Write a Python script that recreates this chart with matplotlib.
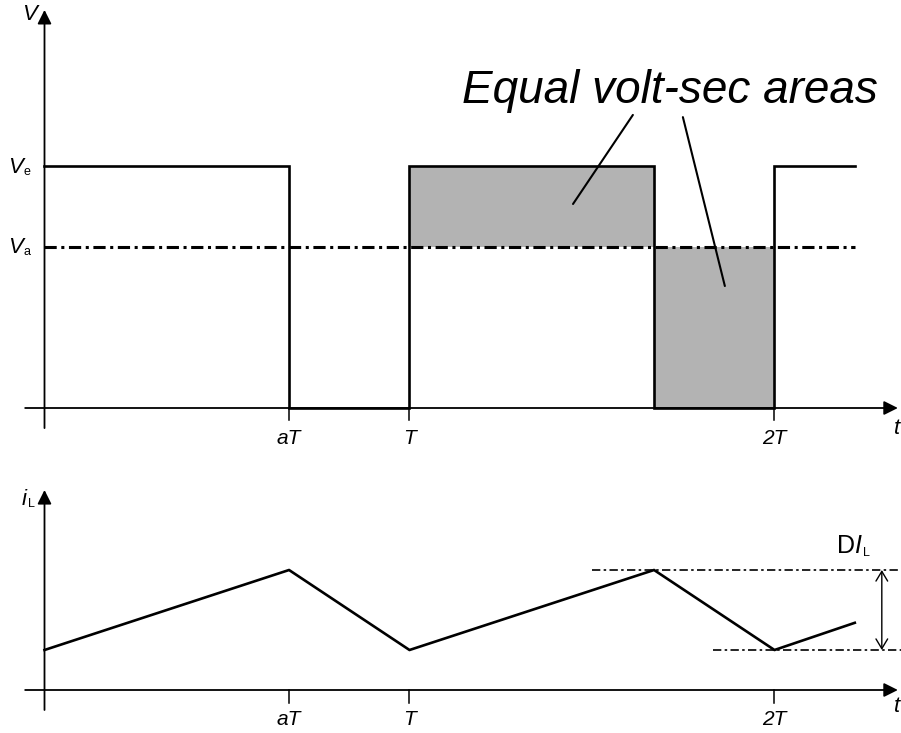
import numpy as np
import matplotlib
matplotlib.use('Agg')
import matplotlib.pyplot as plt

plt.rcParams['font.family'] = ['Liberation Sans', 'DejaVu Sans']
plt.rcParams['mathtext.fontset'] = 'custom'
plt.rcParams['mathtext.rm'] = 'Liberation Sans'
plt.rcParams['mathtext.it'] = 'Liberation Sans:italic'
plt.rcParams['mathtext.bf'] = 'Liberation Sans:bold'

# data (time in units of T)
a = 0.67
Ve = 1.0
Va = 0.665
t_v = [0, a, a, 1, 1, 1 + a, 1 + a, 2, 2, 2.22]
v = [Ve, Ve, 0, 0, Ve, Ve, 0, 0, Ve, Ve]
t_i = [0, a, 1, 1 + a, 2, 2.22]
i_L = [1, 3, 1, 3, 1, 1.68]
i_min, i_max = 1, 3
tick_pos = [a, 1, 2]
tick_lbl = ['aT', 'T', '2T']

fig = plt.figure(figsize=(9.01, 7.33), dpi=100)
ax1 = fig.add_axes([0, 283 / 733, 1, 450 / 733])
ax2 = fig.add_axes([0, 0, 1, 263 / 733])
xlim = (-44.5 / 365, (901 - 44.5) / 365)
ax1.set_xlim(*xlim)
ax1.set_ylim(-42 / 242, 408 / 242)
ax2.set_xlim(*xlim)
ax2.set_ylim(-43 / 40, 220 / 40)
for ax in (ax1, ax2):
    ax.axis('off')

axis_arrow = dict(arrowstyle='-|>,head_length=0.6,head_width=0.3', lw=1.3,
                  color='black', mutation_scale=14, shrinkA=0, shrinkB=0)


def sub_label(ax, x, y, main, sub, size=16, subsize=9, dx=0.5, dy=-1.5):
    # main symbol in italic with a small upright subscript after it
    ax.text(x, y, main, ha='right', va='baseline', fontsize=size, style='italic')
    ax.annotate(sub, xy=(x, y), xytext=(dx, dy), textcoords='offset points',
                ha='left', va='baseline', fontsize=subsize)


# ---- top panel: voltage ----
ax1.annotate('', xy=(0, 1.645), xytext=(0, -0.083), arrowprops=axis_arrow)
ax1.annotate('', xy=(2.338, 0), xytext=(-0.053, 0), arrowprops=axis_arrow)

# shaded volt-sec areas
ax1.fill_between([1, 1 + a], Va, Ve, color='#b3b3b3', lw=0)
ax1.fill_between([1 + a, 2], 0, Va, color='#b3b3b3', lw=0)

ax1.plot([0, t_v[-1]], [Va, Va], color='black', lw=2.2,
         linestyle=(0, (4, 1.5, 1, 1.5)))
ax1.plot(t_v, v, color='black', lw=1.9, solid_joinstyle='miter')

for tp, tl in zip(tick_pos, tick_lbl):
    ax1.plot([tp, tp], [0, -0.05], color='black', lw=1.1)
    ax1.text(tp, -0.149, tl, ha='center', va='baseline', fontsize=15,
             style='italic')

ax1.text(-0.04, 1.603, 'V', ha='center', va='baseline', fontsize=16, style='italic')
sub_label(ax1, -0.06, 0.971, 'V', 'e')
sub_label(ax1, -0.06, 0.64, 'V', 'a')
ax1.text(2.335, -0.107, 't', ha='center', va='baseline', fontsize=16, style='italic')

ax1.text(1.714, 1.26, 'Equal volt-sec areas', ha='center', va='baseline',
         fontsize=33, style='italic')
line_kw = dict(arrowstyle='-', lw=1.5, color='black', shrinkA=0, shrinkB=0)
ax1.annotate('', xy=(1.448, 0.843), xytext=(1.612, 1.211), arrowprops=line_kw)
ax1.annotate('', xy=(1.864, 0.504), xytext=(1.749, 1.202), arrowprops=line_kw)

# ---- bottom panel: inductor current ----
ax2.annotate('', xy=(0, 5.0), xytext=(0, -0.5), arrowprops=axis_arrow)
ax2.annotate('', xy=(2.338, 0), xytext=(-0.053, 0), arrowprops=axis_arrow)

ax2.plot(t_i, i_L, color='black', lw=1.9)

dd = (0, (5, 2, 1.5, 2))
ax2.plot([1.5, xlim[1]], [i_max, i_max], color='black', lw=1.2, linestyle=dd)
ax2.plot([1.831, xlim[1]], [i_min, i_min], color='black', lw=1.2, linestyle=dd)
ax2.annotate('', xy=(2.294, i_max), xytext=(2.294, i_min),
             arrowprops=dict(arrowstyle='<->,head_length=0.5,head_width=0.3',
                             lw=1.0, color='black', mutation_scale=14,
                             shrinkA=0, shrinkB=0))
ax2.text(2.242, 3.425, r'D$\mathit{I}$', ha='right', va='baseline', fontsize=18)
ax2.annotate('L', xy=(2.242, 3.425), xytext=(0.3, -2.5), textcoords='offset points',
             ha='left', va='baseline', fontsize=9)

for tp, tl in zip(tick_pos, tick_lbl):
    ax2.plot([tp, tp], [0, -0.32], color='black', lw=1.1)
    ax2.text(tp, -0.875, tl, ha='center', va='baseline', fontsize=15,
             style='italic')

sub_label(ax2, -0.048, 4.625, 'i', 'L', size=16, subsize=9)
ax2.text(2.335, -0.55, 't', ha='center', va='baseline', fontsize=16, style='italic')

fig.savefig('out.png', dpi=100)
